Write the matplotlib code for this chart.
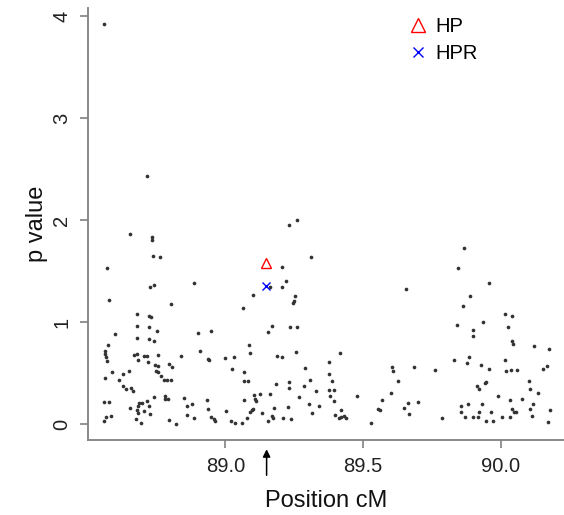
import numpy as np
import matplotlib
matplotlib.use("Agg")
from matplotlib import pyplot as plt

# marker positions (cM) and p values
pos = [88.561, 88.715, 88.654, 88.733, 88.733, 88.737, 88.762, 88.570,
       88.727, 88.741, 88.578, 88.804, 88.681, 88.722, 88.731, 88.681, 88.723, 88.753,
       88.600, 88.681, 88.723, 88.742, 88.573, 88.564, 88.564, 88.566, 88.572, 88.670,
       88.681, 88.705, 88.717, 88.756, 88.839, 88.682, 88.721, 88.746, 88.757, 88.795,
       88.808, 88.750, 88.755, 88.589, 88.652, 88.630, 88.564, 88.766, 88.615, 88.778,
       88.790, 88.802, 88.630, 88.639, 88.658, 88.665, 88.742, 88.780, 88.782, 88.791,
       88.849, 88.560, 88.578, 88.717, 88.687, 88.697, 88.682, 88.724, 88.654, 88.704,
       88.680, 88.684, 88.727, 88.862, 88.862, 88.567, 88.586, 88.561, 88.675, 88.694,
       88.797, 88.822,
       88.886, 89.100, 89.064, 89.163, 89.207, 89.171, 89.154, 88.900, 88.948, 89.085,
       89.091, 88.909, 88.938, 88.942, 89.000, 89.030, 89.189, 89.206, 89.025, 89.067,
       89.067, 89.082, 89.184, 89.103, 89.127, 89.161, 89.108, 89.113, 89.068, 88.933,
       88.880, 88.938, 89.001, 89.096, 89.100, 89.091, 89.177, 89.133, 88.886, 88.948,
       88.962, 88.960, 89.020, 89.036, 89.061, 89.078, 89.155, 89.168, 89.174, 89.210,
       89.207, 89.232, 89.261, 89.312, 89.866,
       89.219, 89.656, 89.254, 89.248, 89.245, 89.235, 89.261, 89.258, 89.416, 89.289,
       89.375, 89.604, 89.607, 89.685, 89.375, 89.230, 89.307, 89.387, 89.231, 89.284,
       89.329, 89.375, 89.393, 89.627, 89.380, 89.267, 89.477, 89.600, 89.396, 89.569,
       89.305, 89.341, 89.663, 89.699, 89.226, 89.555, 89.561, 89.647, 89.315, 89.421,
       89.667, 89.239, 89.398, 89.413, 89.421, 89.431, 89.437, 89.529,
       89.843, 89.957, 89.888, 89.864, 89.840, 89.936, 89.898, 89.900, 90.014, 90.039,
       90.027, 90.041, 90.043, 90.121, 90.173, 89.831, 89.883, 89.878, 89.929, 89.957,
       90.016, 90.017, 90.037, 90.060, 90.166, 90.152, 89.946, 89.941, 89.912, 89.922,
       90.103, 90.105, 90.135, 89.991, 90.034, 90.078, 89.857, 89.881, 89.930, 90.115,
       89.857, 89.919, 89.965, 90.039, 90.049, 90.055, 90.107, 90.178, 89.785, 89.871,
       89.899, 89.918, 89.945, 89.973, 90.005, 90.032, 90.113, 90.170, 89.761]
pval = [3.92, 2.43, 1.86, 1.83, 1.80, 1.65, 1.64, 1.53,
        1.34, 1.36, 1.22, 1.18, 1.08, 1.06, 1.05, 0.965, 0.95, 0.91,
        0.886, 0.844, 0.834, 0.815, 0.778, 0.716, 0.687, 0.654, 0.621, 0.68,
        0.684, 0.664, 0.664, 0.677, 0.67, 0.625, 0.611, 0.579, 0.569, 0.589,
        0.556, 0.523, 0.513, 0.507, 0.52, 0.488, 0.451, 0.474, 0.429, 0.429,
        0.429, 0.429, 0.373, 0.34, 0.353, 0.327, 0.262, 0.278, 0.242, 0.242,
        0.258, 0.213, 0.213, 0.229, 0.209, 0.209, 0.18, 0.18, 0.157, 0.131,
        0.137, 0.111, 0.101, 0.177, 0.088, 0.072, 0.078, 0.033, 0.049, 0.01,
        0.039, 0.0,
        1.38, 1.27, 1.14, 1.34, 1.34, 0.965, 0.90, 0.89, 0.91, 0.77,
        0.70, 0.716, 0.635, 0.625, 0.645, 0.657, 0.67, 0.657, 0.54, 0.51,
        0.425, 0.422, 0.393, 0.288, 0.297, 0.291, 0.245, 0.226, 0.239, 0.233,
        0.196, 0.147, 0.131, 0.134, 0.147, 0.115, 0.157, 0.111, 0.062, 0.069,
        0.033, 0.046, 0.033, 0.01, 0.013, 0.059, 0.033, 0.076, 0.062, 0.062,
        1.54, 1.95, 2.00, 1.64, 1.73,
        1.40, 1.32, 1.26, 1.21, 1.19, 0.955, 0.955, 0.707, 0.70, 0.547,
        0.611, 0.559, 0.52, 0.559, 0.488, 0.415, 0.435, 0.425, 0.353, 0.37,
        0.327, 0.337, 0.334, 0.425, 0.275, 0.262, 0.275, 0.301, 0.223, 0.239,
        0.20, 0.174, 0.206, 0.219, 0.164, 0.15, 0.137, 0.154, 0.105, 0.134,
        0.101, 0.049, 0.085, 0.056, 0.069, 0.076, 0.056, 0.013,
        1.53, 1.38, 1.26, 1.155, 0.97, 1.00, 0.925, 0.867, 1.08, 1.06,
        0.955, 0.817, 0.785, 0.768, 0.736, 0.628, 0.66, 0.599, 0.582, 0.537,
        0.625, 0.517, 0.527, 0.53, 0.566, 0.54, 0.412, 0.402, 0.37, 0.343,
        0.419, 0.34, 0.307, 0.275, 0.239, 0.242, 0.18, 0.20, 0.196, 0.196,
        0.115, 0.121, 0.121, 0.15, 0.118, 0.118, 0.144, 0.14, 0.056, 0.072,
        0.072, 0.072, 0.033, 0.033, 0.072, 0.072, 0.078, 0.016, 0.527]

hp_pos, hp_val = [89.147], [1.58]
hpr_pos, hpr_val = [89.147], [1.35]
arrow_pos = 89.15

xticks = [89.0, 89.5, 90.0]
xticklabels = ["89.0", "89.5", "90.0"]
yticks = [0, 1, 2, 3, 4]

plt.rcParams['font.family'] = ['Liberation Sans', 'DejaVu Sans']

fig = plt.figure(figsize=(5.64, 5.15), dpi=100)
ax = fig.add_axes([88/564, 75/515, 476/564, 432/515])

ax.scatter(pos, pval, s=7, c='#333333', linewidths=0, zorder=2)
ax.plot(hp_pos, hp_val, ls='none', marker='^', ms=7.5, mfc='none', mec='red', mew=1.0, label='HP')
ax.plot(hpr_pos, hpr_val, ls='none', marker='x', ms=6, mec='blue', mew=1.0, label='HPR')

ax.set_xlim(88.502, 90.229)
ax.set_ylim(-0.157, 4.08)

for s in ['top', 'right']:
    ax.spines[s].set_visible(False)
for s in ['left', 'bottom']:
    ax.spines[s].set_color('#808080')
    ax.spines[s].set_linewidth(1.3)

ax.set_xticks(xticks)
ax.set_xticklabels(xticklabels)
ax.set_yticks(yticks)
ax.tick_params(colors='#808080', labelcolor='#222222', labelsize=14.5,
               length=6, width=1.2, pad=6)
for lab in ax.get_yticklabels():
    lab.set_rotation(90)
    lab.set_va('center')

ax.set_xlabel('Position cM', fontsize=17, color='#111111', labelpad=10)
ax.set_ylabel('p value', fontsize=17, color='#111111', labelpad=3)

ax.annotate('', xy=(arrow_pos, -0.015), xycoords=('data', 'axes fraction'),
            xytext=(arrow_pos, -0.088), textcoords=('data', 'axes fraction'),
            arrowprops=dict(arrowstyle='-|>', color='black', lw=1.1, mutation_scale=11),
            annotation_clip=False)

ax.legend(loc='upper left', bbox_to_anchor=(0.672, 0.979), frameon=False,
          fontsize=14.5, handlelength=1.0, handletextpad=0.35, borderpad=0,
          borderaxespad=0, labelspacing=0.4, markerscale=1.3)

fig.savefig('out.png', dpi=100)
